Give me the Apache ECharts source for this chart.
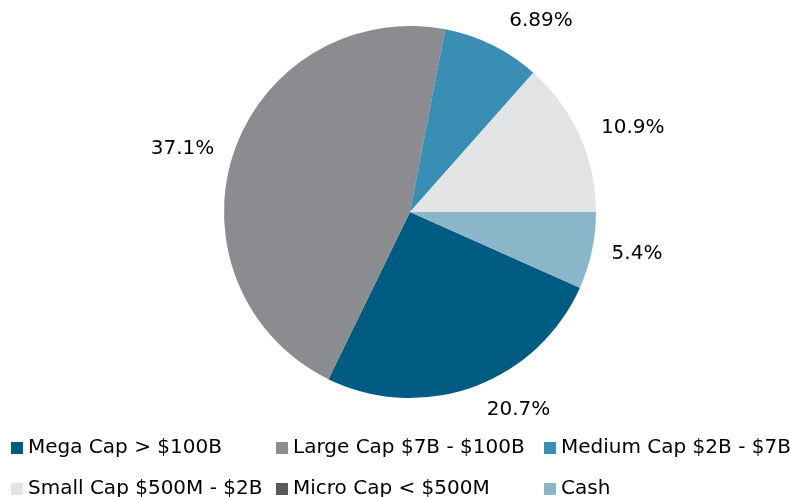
<!DOCTYPE html>
<html>
<head>
<meta charset="utf-8">
<script src="https://cdn.jsdelivr.net/npm/echarts@6/dist/echarts.min.js"></script>
<style>
  html, body { margin: 0; padding: 0; background: #fff; }
  #chart { width: 791px; height: 497px; }
</style>
</head>
<body>
<div id="chart"></div>
<script>
  // data
  var categories = ['Mega Cap > $100B', 'Large Cap $7B - $100B', 'Medium Cap $2B - $7B',
                    'Small Cap $500M - $2B', 'Micro Cap < $500M', 'Cash'];
  var values = [20.7, 37.1, 6.89, 10.9, 0, 5.4];
  var colors = ['#005b82', '#8b8c90', '#3a8db3', '#e3e4e6', '#58595b', '#8bb6c9'];
  // how far each label sits off the rim
  var labelGap = [24, 15, 27, 18, 0, 15];

  var font = 'DejaVu Sans';
  var myChart = echarts.init(document.getElementById('chart'));

  var pieData = categories.map(function (name, i) {
    var item = {
      name: name,
      value: values[i],
      itemStyle: { color: colors[i] },
      labelLine: { show: false, length: labelGap[i], length2: 0 }
    };
    if (!values[i]) item.label = { show: false };
    return item;
  });

  // legend laid out as a 3 x 2 grid, one legend per cell
  var legendLeft = [11, 276, 544];
  var legendTop = [438, 479];
  var legends = categories.map(function (name, i) {
    return {
      orient: 'horizontal',
      left: legendLeft[i % 3],
      top: legendTop[Math.floor(i / 3)],
      padding: 0,
      itemWidth: 12,
      itemHeight: 12,
      icon: 'rect',
      data: [name],
      textStyle: { fontFamily: font, fontSize: 20, color: '#000' }
    };
  });

  var option = {
    animation: false,
    legend: legends,
    series: [
      {
        type: 'pie',
        center: [410, 212],
        radius: 186,
        startAngle: -24,
        clockwise: true,
        avoidLabelOverlap: false,
        data: pieData,
        label: {
          position: 'outside',
          formatter: function (p) { return p.value + '%'; },
          fontFamily: font,
          fontSize: 20,
          color: '#000',
          distanceToLabelLine: 5
        },
        labelLine: { show: false }
      }
    ]
  };
  myChart.setOption(option);
</script>
</body>
</html>
